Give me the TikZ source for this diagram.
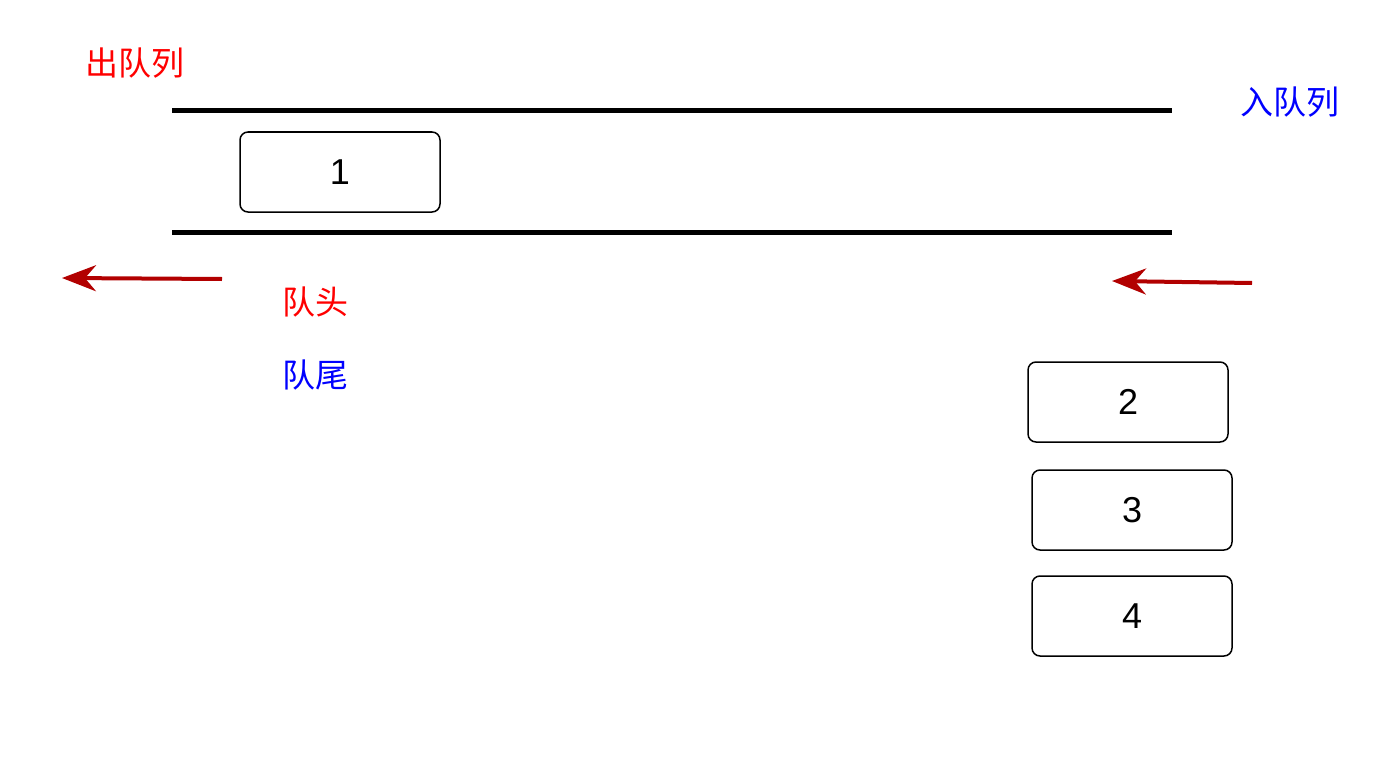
\documentclass[tikz,border=0pt]{standalone}
\usepackage{fontspec}
\setmainfont{Liberation Sans}
\newfontfamily\cjk{Noto Sans CJK SC}
\usetikzlibrary{arrows.meta}
\definecolor{arr}{HTML}{B20000}
\tikzset{box/.style={draw,rounded corners=8pt,line width=1.5pt,minimum width=200pt,minimum height=80pt,font=\fontsize{36}{40}\selectfont},
lab/.style={font=\cjk\fontsize{33}{36}\selectfont},
bar/.style={line width=5pt},
arrw/.style={draw=arr,line width=4pt,-{Stealth[length=34pt,width=26pt]}}}
\begin{document}
\begin{tikzpicture}[x=1pt,y=-1pt]
\useasboundingbox[fill=white] (0,0) rectangle (1399,765);
\node[lab,text=red] (out) at (135,63) {出队列};
\node[lab,text=blue] (in) at (1290,102) {入队列};
\coordinate (t1) at (172,111); \coordinate (t2) at (1172,111);
\coordinate (b1) at (172,232); \coordinate (b2) at (1172,232);
\draw[bar] (t1) -- (t2); \draw[bar] (b1) -- (b2);
\node[box] (n1) at (340,172) {1};
\node[box] (n2) at (1128,402) {2};
\node[box] (n3) at (1132,510) {3};
\node[box] (n4) at (1132,616) {4};
\coordinate (a1s) at (222,279); \coordinate (a1e) at (62,278);
\coordinate (a2s) at (1252,283); \coordinate (a2e) at (1112,281);
\draw[arrw] (a1s) -- (a1e);
\draw[arrw] (a2s) -- (a2e);
\node[lab,text=red] (head) at (315,302) {队头};
\node[lab,text=blue] (tail) at (315,375) {队尾};
\end{tikzpicture}
\end{document}
